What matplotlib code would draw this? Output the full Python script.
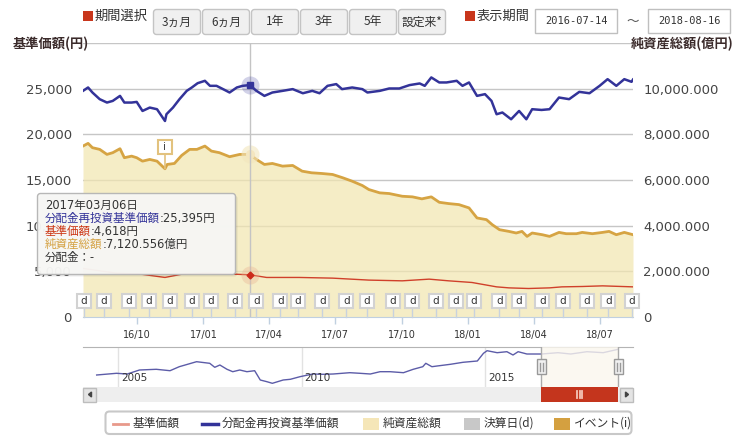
import matplotlib
matplotlib.use('Agg')
import matplotlib.pyplot as plt
import matplotlib.dates as mdates
import matplotlib.transforms as mtransforms
from matplotlib.patches import Rectangle, FancyBboxPatch, Polygon
from matplotlib.lines import Line2D
from matplotlib.ticker import FuncFormatter, FixedLocator
import pandas as pd

plt.rcParams['font.family'] = ['DejaVu Sans', 'Noto Sans CJK JP']
JP = ['Noto Sans CJK JP', 'DejaVu Sans']
TIP = ['DejaVu Sans', 'Noto Sans CJK JP']

# ---------------- data ----------------
# 分配金再投資基準価額 (円)
reinv_dates = ['2016-07-19', '2016-07-26', '2016-08-01', '2016-08-11', '2016-08-21', '2016-08-29',
               '2016-09-08', '2016-09-14', '2016-09-24', '2016-10-01', '2016-10-09', '2016-10-19',
               '2016-10-29', '2016-11-09', '2016-11-11', '2016-11-20', '2016-11-29', '2016-12-09',
               '2016-12-16', '2016-12-24', '2017-01-03', '2017-01-10', '2017-01-19', '2017-01-28',
               '2017-02-06', '2017-02-16', '2017-02-24', '2017-03-06', '2017-03-15', '2017-03-26',
               '2017-04-06', '2017-04-20', '2017-05-04', '2017-05-18', '2017-05-31', '2017-06-10',
               '2017-06-21', '2017-07-03', '2017-07-11', '2017-07-25', '2017-08-08', '2017-08-15',
               '2017-09-01', '2017-09-14', '2017-09-28', '2017-10-12', '2017-10-26', '2017-11-02',
               '2017-11-11', '2017-11-22', '2017-12-02', '2017-12-16', '2017-12-24', '2018-01-02',
               '2018-01-13', '2018-01-24', '2018-02-02', '2018-02-09', '2018-02-17', '2018-03-01',
               '2018-03-12', '2018-03-22', '2018-03-30', '2018-04-12', '2018-04-23', '2018-05-06',
               '2018-05-20', '2018-06-03', '2018-06-17', '2018-07-01', '2018-07-12', '2018-07-24',
               '2018-08-04', '2018-08-14', '2018-08-16']
reinv_values = [24760, 25130, 24580, 23850, 23480, 23660, 24210, 23480, 23480, 23550, 22560, 22930,
                22750, 21460, 22200, 22930, 23850, 24760, 25130, 25600, 25860, 25310, 25310, 24950,
                24580, 25130, 25310, 25395, 24760, 24210, 24580, 24760, 24950, 24500, 24760, 24500,
                25310, 25500, 24950, 25130, 24950, 24580, 24760, 25020, 25020, 25390, 25570, 25310,
                26230, 25680, 25680, 25860, 25310, 25680, 24210, 24400, 23660, 22200, 22390, 21650,
                22560, 21650, 22750, 22670, 22750, 24030, 23850, 24650, 24500, 25310, 26040, 25310,
                26040, 25750, 26000]

# 基準価額 (円)
nav_dates = ['2016-07-19', '2016-08-11', '2016-09-03', '2016-10-06', '2016-11-09', '2016-12-03',
             '2017-01-05', '2017-02-10', '2017-03-06', '2017-03-29', '2017-05-13', '2017-06-28',
             '2017-08-17', '2017-10-02', '2017-11-08', '2017-12-05', '2018-01-06', '2018-02-09',
             '2018-02-26', '2018-03-25', '2018-04-23', '2018-05-10', '2018-06-07', '2018-07-05',
             '2018-08-16']
nav_values = [5320, 5060, 4800, 4700, 4330, 4700, 4800, 4700, 4618, 4330, 4330, 4255,
              4040, 3960, 4145, 3960, 3780, 3300, 3190, 3120, 3190, 3300, 3340, 3410, 3300]

# 純資産総額 (億円)
assets_dates = ['2016-07-19', '2016-07-26', '2016-08-01', '2016-08-11', '2016-08-21', '2016-08-29',
                '2016-09-08', '2016-09-14', '2016-09-24', '2016-10-01', '2016-10-09', '2016-10-19',
                '2016-10-29', '2016-11-09', '2016-11-12', '2016-11-22', '2016-12-02', '2016-12-13',
                '2016-12-23', '2017-01-03', '2017-01-12', '2017-01-23', '2017-02-06', '2017-02-20',
                '2017-03-06', '2017-03-15', '2017-03-26', '2017-04-06', '2017-04-20', '2017-05-04',
                '2017-05-17', '2017-05-30', '2017-06-13', '2017-06-28', '2017-07-12', '2017-07-25',
                '2017-08-08', '2017-08-17', '2017-09-01', '2017-09-14', '2017-10-02', '2017-10-16',
                '2017-10-29', '2017-11-11', '2017-11-22', '2017-12-05', '2017-12-19', '2018-01-02',
                '2018-01-13', '2018-01-26', '2018-02-03', '2018-02-13', '2018-02-26', '2018-03-08',
                '2018-03-16', '2018-03-23', '2018-03-30', '2018-04-13', '2018-04-23', '2018-05-06',
                '2018-05-16', '2018-05-30', '2018-06-07', '2018-06-21', '2018-07-05', '2018-07-14',
                '2018-07-24', '2018-08-04', '2018-08-16']
assets_values = [7486, 7604, 7415, 7341, 7121, 7196, 7371, 6976, 7046, 6976, 6826, 6901,
                 6826, 6492, 6681, 6725, 7077, 7341, 7341, 7486, 7266, 7196, 7020, 7121,
                 7120.556, 6901, 6681, 6725, 6607, 6637, 6387, 6316, 6286, 6242, 6097, 5947,
                 5758, 5582, 5437, 5407, 5288, 5262, 5174, 5262, 5024, 4967, 4923, 4778,
                 4338, 4264, 4044, 3824, 3749, 3679, 3749, 3530, 3679, 3604, 3530, 3705,
                 3648, 3648, 3705, 3648, 3705, 3749, 3604, 3705, 3604]

# 決算日 (d) and イベント (i)
settlement_dates = ['2016-07-20', '2016-08-17', '2016-09-20', '2016-10-18', '2016-11-16', '2016-12-16',
                    '2017-01-11', '2017-02-13', '2017-03-15', '2017-04-17', '2017-05-11', '2017-06-14',
                    '2017-07-17', '2017-08-14', '2017-09-19', '2017-10-16', '2017-11-17', '2017-12-15',
                    '2018-01-09', '2018-02-13', '2018-03-12', '2018-04-13', '2018-05-11', '2018-06-13',
                    '2018-07-13', '2018-08-14']
event_dates = ['2016-11-09']

# navigator (long history of 分配金再投資基準価額)
history_dates = ['2004-06-01', '2004-12-15', '2005-04-01', '2005-08-01', '2006-01-15', '2006-06-01',
                 '2006-09-01', '2007-02-20', '2007-07-01', '2007-08-20', '2007-10-10', '2007-12-20',
                 '2008-02-15', '2008-04-25', '2008-07-05', '2008-09-20', '2008-11-15', '2009-01-20',
                 '2009-03-15', '2009-07-01', '2009-09-10', '2009-12-15', '2010-04-20', '2010-08-01',
                 '2010-11-10', '2011-04-25', '2011-08-05', '2011-11-15', '2012-02-20', '2012-05-30',
                 '2012-10-10', '2013-01-15', '2013-04-20', '2013-05-20', '2013-07-20', '2013-09-10',
                 '2014-01-20', '2014-05-25', '2014-10-15', '2014-12-15', '2015-01-20', '2015-04-30',
                 '2015-08-05', '2015-10-05', '2015-11-25', '2016-02-20', '2016-06-01', '2016-07-15',
                 '2016-12-25', '2017-05-01', '2017-10-10', '2018-03-20', '2018-08-16']
history_values = [10000, 11090, 10640, 13210, 13660, 12760, 15330, 18540, 17510, 14940, 16420, 13660,
                  12120, 13210, 12120, 12760, 6790, 5700, 4670, 6790, 7240, 8910, 10640, 10450,
                  10640, 11480, 11090, 10640, 12120, 12120, 11480, 13660, 15330, 17510, 15330, 15780,
                  16870, 18150, 18990, 23930, 25600, 24320, 24960, 22840, 24960, 23480, 23480, 23480,
                  24320, 23480, 24960, 24320, 26500]
history_years = [2005, 2010, 2015]

period_buttons = ['3ヵ月', '6ヵ月', '1年', '3年', '5年', '設定来*']
display_start = '2016-07-14'
display_end = '2018-08-16'
hover_date = '2017-03-06'
hover_dividend = '-'
legend_labels = ['基準価額', '分配金再投資基準価額', '純資産総額', '決算日(d)', 'イベント(i)']

# ---------------- styles ----------------
BLUE = '#333399'
RED = '#d0402a'
GOLD = '#d6a443'
FILL = '#f2e6b1'
TXT = '#333333'

W, H = 737, 444
fig = plt.figure(figsize=(W / 100, H / 100), dpi=100)
fig.patch.set_facecolor('white')


def rect(x0, y0, x1, y1):
    return [x0 / W, 1 - y1 / H, (x1 - x0) / W, (y1 - y0) / H]


T = pd.to_datetime
rd, nd, ad = T(reinv_dates), T(nav_dates), T(assets_dates)
sd, ed, hdts = T(settlement_dates), T(event_dates), T(history_dates)
hd = T(hover_date)
s0, s1 = T(display_start), T(display_end)

# ---------------- main chart: right axis (net assets area) ----------------
axr = fig.add_axes(rect(83, 43, 633, 317))
axr.set_ylim(0, 12000)
for s in axr.spines.values():
    s.set_visible(False)
axr.yaxis.tick_right()
axr.yaxis.set_major_locator(FixedLocator(list(range(0, 10001, 2000))))
axr.yaxis.set_major_formatter(FuncFormatter(lambda v, p: '0' if v == 0 else f'{v:,.3f}'))
axr.tick_params(axis='y', length=0, pad=7.5, labelsize=9.5, labelcolor='#444444')
axr.tick_params(axis='x', bottom=False, labelbottom=False)
for g in range(2000, 12001, 2000):
    axr.axhline(g, color='#c6c6c6', lw=1, zorder=0.5)
axr.fill_between(ad, 0, assets_values, color=FILL, alpha=0.72, lw=0, zorder=1)
axr.plot(ad, assets_values, color=GOLD, lw=2, zorder=2)

# event flag (i)
for d, ds in zip(ed, event_dates):
    v = assets_values[assets_dates.index(ds)]
    axr.annotate('', xy=(d, v), xytext=(0, 15), textcoords='offset pixels',
                 arrowprops=dict(arrowstyle='-', color='#e2c27e', lw=1.2, shrinkA=0, shrinkB=0),
                 zorder=5)
    tr = mtransforms.offset_copy(axr.transData, fig=fig, x=0, y=22, units='dots')
    axr.plot([d], [v], 's', transform=tr, ms=9.8, mfc='white', mec='#e2c27e', mew=1.5, zorder=6)
    axr.text(d, v, 'i', transform=tr, ha='center', va='center', fontsize=7.5, color='#444444', zorder=7)

# hover marker on net assets
hv_a = assets_values[assets_dates.index(hover_date)]
axr.plot([hd], [hv_a], 'o', ms=13, color='#f3e6bd', alpha=0.6, mec='none', zorder=4)
axr.plot([hd], [hv_a], 'o', ms=5.5, color='#f4e6bf', mec='#f4e6bf', zorder=5)

# ---------------- main chart: left axis (prices) ----------------
axl = fig.add_axes(rect(83, 43, 633, 317), sharex=axr)
axl.patch.set_visible(False)
axl.set_ylim(0, 30000)
for k, s in axl.spines.items():
    s.set_visible(k == 'bottom')
axl.spines['bottom'].set_color('#c0d0e0')
axl.yaxis.set_major_locator(FixedLocator(list(range(0, 25001, 5000))))
axl.yaxis.set_major_formatter(FuncFormatter(lambda v, p: f'{v:,.0f}'))
axl.tick_params(axis='y', length=0, pad=8, labelsize=9.5, labelcolor='#444444')
axl.xaxis.set_major_locator(mdates.MonthLocator(bymonth=[1, 4, 7, 10]))
axl.xaxis.set_major_formatter(mdates.DateFormatter('%y/%m'))
axl.tick_params(axis='x', length=5, width=1, color='#c0d0e0', labelsize=7,
                labelcolor=TXT, pad=4)

axl.axvline(hd, color='#c4c4c4', lw=1, zorder=1.5)
axl.plot(nd, nav_values, color=RED, lw=1, zorder=3)
axl.plot(rd, reinv_values, color=BLUE, lw=1.8, zorder=3)

# settlement flags (d)
bt = axl.get_xaxis_transform()
for d in sd:
    axl.plot([d, d], [0, 0.033], transform=bt, color='#c8d2de', lw=1, zorder=4, clip_on=False)
axl.plot(sd, [0.0602] * len(sd), 's', transform=bt, ms=9.8, mfc='#fefefe', mec='#d2d2d2',
         mew=1.5, zorder=5, clip_on=False)
for d in sd:
    axl.text(d, 0.0602, 'd', transform=bt, ha='center', va='center', fontsize=7.5,
             color=TXT, zorder=6, clip_on=False)

# hover markers
hv_b = reinv_values[reinv_dates.index(hover_date)]
hv_r = nav_values[nav_dates.index(hover_date)]
axl.plot([hd], [hv_b], 'o', ms=13, color=BLUE, alpha=0.22, mec='none', zorder=4)
axl.plot([hd], [hv_b], 's', ms=4.5, color=BLUE, zorder=5)
axl.plot([hd], [hv_r], 'o', ms=13, color='#e8b090', alpha=0.35, mec='none', zorder=4)
axl.plot([hd], [hv_r], 'D', ms=3.5, color='#cc2a1a', zorder=5)

axr.set_xlim(rd[0], s1)

# ---------------- navigator ----------------
nav = fig.add_axes(rect(83, 347, 633, 387))
nav.set_facecolor('white')
for k, s in nav.spines.items():
    s.set_visible(k == 'top')
    s.set_color('#b4b4b4')
nav.set_xticks([])
nav.set_yticks([])
for y in history_years:
    d = T(f'{y}-01-01')
    nav.axvline(d, color='#e2e2e2', lw=1, zorder=0.5)
    nav.annotate(str(y), xy=(mdates.date2num(d), 0.22), xycoords=nav.get_xaxis_transform(),
                 xytext=(3, 0), textcoords='offset pixels', ha='left', va='center',
                 fontsize=7.5, color=TXT)
nav.plot(hdts, history_values, color='#5c5ca8', lw=1, zorder=2)
nav.axvspan(s0, s1, color='#fbf7ee', alpha=0.8, zorder=3, lw=0)
nav.axvline(s0, color='#aaaaaa', lw=1, zorder=4)
nav.axvline(s1, color='#aaaaaa', lw=1, zorder=4)


def px_trans(ax, xd, yf):
    return mtransforms.ScaledTranslation(mdates.date2num(xd), yf, ax.get_xaxis_transform())


for d in (s0, s1):
    t = px_trans(nav, d, 0.51)
    nav.add_patch(Rectangle((-4.5, -7.5), 9, 15, transform=t, fc='#f1f1f1', ec='#999999',
                            lw=1, zorder=6, clip_on=False))
    for dx in (-1.5, 1.5):
        nav.add_line(Line2D([dx, dx], [-4, 4], transform=t, color='#999999', lw=1,
                            zorder=7, clip_on=False))
nav.set_xlim(T('2004-01-17'), T('2019-01-11'))
nav.set_ylim(2296, 27976)

# ---------------- scrollbar ----------------
sb = fig.add_axes(rect(83, 387, 633, 402))
sb.set_facecolor('#eeeeee')
for s in sb.spines.values():
    s.set_visible(False)
sb.set_xticks([])
sb.set_yticks([])
sb.axvspan(s0, s1, color='#c4351d', lw=0)
mid = s0 + (s1 - s0) / 2
t = px_trans(sb, mid, 0.5)
for dx in (-2.5, 0, 2.5):
    sb.add_line(Line2D([dx, dx], [-3.3, 3.3], transform=t, color='#f4c4b8', lw=1.3, clip_on=False))
sb.set_xlim(T('2004-01-17'), T('2019-01-11'))
sb.set_ylim(0, 1)

# ---------------- overlay (controls, titles, tooltip, legend) ----------------
ov = fig.add_axes([0, 0, 1, 1], zorder=10)
ov.set_xlim(0, W)
ov.set_ylim(H, 0)
ov.axis('off')

# scroll buttons
for x0, pts in ((83, [(88.5, 394.5), (91.5, 392), (91.5, 397)]),
                (620, [(628.5, 394.5), (625.5, 392), (625.5, 397)])):
    ov.add_patch(Rectangle((x0 + 0.5, 387.5), 13, 14, fc='#e4e4e4', ec='#bdbdbd', lw=1))
    ov.add_patch(Polygon(pts, closed=True, color='#444444'))

# top controls
ov.add_patch(Rectangle((83.5, 11.5), 10, 10, color='#c8361c', lw=0))
ov.text(95, 16.5, '期間選択', family=JP, fontsize=9.5, color=TXT, va='center', ha='left')
for i, lab in enumerate(period_buttons):
    x = 153 + i * 49
    ov.add_patch(FancyBboxPatch((x + 0.5, 9.5), 47, 25, boxstyle='round,pad=0,rounding_size=3',
                                fc='#f0f0f0', ec='#c4c4c4', lw=1))
    ov.text(x + 24, 22, lab, family=JP, fontsize=8.5, color=TXT, ha='center', va='center')
ov.add_patch(Rectangle((465.5, 11.5), 10, 10, color='#c8361c', lw=0))
ov.text(477, 16.5, '表示期間', family=JP, fontsize=9.5, color=TXT, va='center', ha='left')
for x0, lab in ((535.5, display_start), (648.5, display_end)):
    ov.add_patch(Rectangle((x0, 9.5), 82, 24, fc='white', ec='#bfbfbf', lw=1))
    ov.text(x0 + 41, 21.5, lab, family='DejaVu Sans Mono', fontsize=7.5, color=TXT,
            ha='center', va='center')
ov.text(633, 21, '～', family=JP, fontsize=9, color='#555555', ha='center', va='center')

# axis titles
ov.text(13, 44, '基準価額(円)', family=JP, fontsize=9.5, fontweight='bold', color='#3b2b2b',
        va='center', ha='left')
ov.text(734, 44, '純資産総額(億円)', family=JP, fontsize=9.5, fontweight='bold', color='#3b2b2b',
        va='center', ha='right')

# tooltip
ov.add_patch(FancyBboxPatch((39.5, 195.5), 198, 81, boxstyle='round,pad=0,rounding_size=3',
                            fc='black', alpha=0.08, lw=0))
ov.add_patch(FancyBboxPatch((37.5, 193.5), 198, 81, boxstyle='round,pad=0,rounding_size=3',
                            fc='#f7f7f5', ec='#b5b5b5', lw=1, alpha=0.96))
tip_y = [205, 218.2, 231.4, 244.6, 257.8]
TFS = 8.3
ov.text(45, tip_y[0], hd.strftime('%Y年%m月%d日'), family=TIP, fontsize=TFS, color=TXT, va='center')
rows = [(legend_labels[1], BLUE, f':{hv_b:,}円'),
        (legend_labels[0], '#cc3311', f':{hv_r:,}円'),
        (legend_labels[2], '#d4a040', f':{hv_a:,.3f}億円')]
for (lab, col, val), y in zip(rows, tip_y[1:4]):
    t1 = ov.text(45, y, lab, family=TIP, fontsize=TFS, color=col, va='center')
    ov.annotate(val, xy=(1, 0), xycoords=t1, va='bottom', ha='left', family=TIP,
                fontsize=TFS, color=TXT)
ov.text(45, tip_y[4], f'分配金：{hover_dividend}', family=TIP, fontsize=TFS, color=TXT, va='center')

# legend
ov.add_patch(FancyBboxPatch((105.5, 411.5), 526, 22.5, boxstyle='round,pad=0,rounding_size=4',
                            fc='white', ec='#c8c8c8', lw=1.5))
ly = 423.5
LFS = 8.5
ov.plot([113, 128], [ly, ly], color='#e8998b', lw=2)
ov.text(133, ly, legend_labels[0], family=JP, fontsize=LFS, color=TXT, va='center')
ov.plot([202, 218], [ly, ly], color=BLUE, lw=2.5)
ov.text(222, ly, legend_labels[1], family=JP, fontsize=LFS, color=TXT, va='center')
for x0, col, lab in ((363, '#f5e6b8', legend_labels[2]), (464, '#c8c8c8', legend_labels[3]),
                     (554, '#d4a040', legend_labels[4])):
    ov.add_patch(Rectangle((x0, ly - 6), 16, 12, color=col, lw=0))
    ov.text(x0 + 20, ly, lab, family=JP, fontsize=LFS, color=TXT, va='center')

fig.savefig('out.png', dpi=100)
